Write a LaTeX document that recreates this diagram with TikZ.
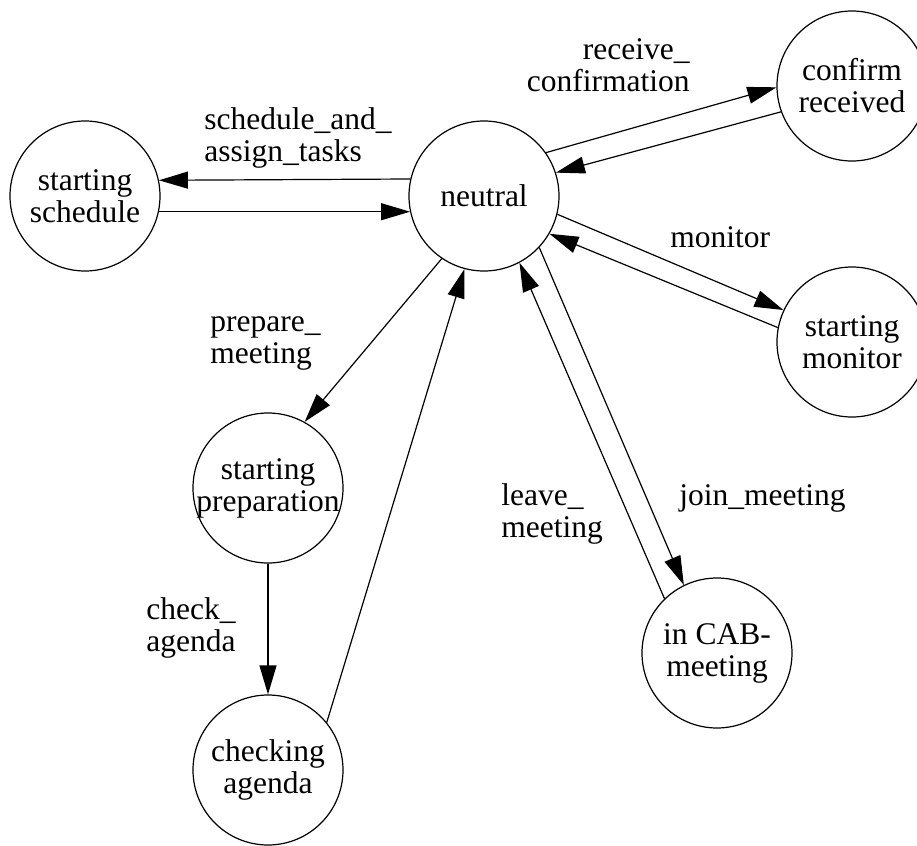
\documentclass[tikz,border=0pt]{standalone}
\usepackage{fontspec}
\setmainfont{Liberation Serif}
\usetikzlibrary{arrows.meta}
\begin{document}
\begin{tikzpicture}[x=0.5pt,y=-0.5pt,
        font=\fontsize{15.75}{16}\selectfont,
        state/.style={circle,draw,line width=0.6pt,minimum size=75pt,inner sep=-20pt,align=center},
        trans/.style={-{Triangle[length=14.5pt,width=8.5pt]},line width=0.6pt},
        lbl/.style={inner sep=0pt}]
        \useasboundingbox (0,0) rectangle (917,846);
        \node [state] (sched) at (85,196) {starting\\schedule};
        \node [state] (neutral) at (484,196) {neutral};
        \node [state] (confirm) at (852,86) {confirm\\received};
        \node [state] (monitor) at (852,342) {starting\\monitor};
        \node [state] (prep) at (268,488) {starting\\preparation};
        \node [state] (agenda) at (268,770) {checking\\agenda};
        \node [state] (cab) at (717,653) {in CAB-\\meeting};
        \draw [trans] (neutral.167.7) -- (sched.12.3);
        \draw [trans] (sched.-12.3) -- (neutral.192.3);
        \draw [trans] (neutral.35.5) -- (confirm.181.5);
        \draw [trans] (confirm.200) -- (neutral.18.7);
        \draw [trans] (neutral.-14) -- (monitor.155);
        \draw [trans] (monitor.169) -- (neutral.-30);
        \draw [trans] (neutral.236) -- (prep.61);
        \draw [trans] (prep.south) -- (agenda.north);
        \draw [trans] (agenda.39) -- (neutral.255);
        \draw [trans] (neutral.-43) -- (cab.116);
        \draw [trans] (cab.134.5) -- (neutral.-62);
        \node [lbl,anchor=base west,align=left] (lsched) at (204,161) {schedule\_and\_\\assign\_tasks};
        \node [lbl,anchor=base east,align=right] (lconfirm) at (690,91) {receive\_\\confirmation};
        \node [lbl,anchor=base west] (lmonitor) at (670,247) {monitor};
        \node [lbl,anchor=base west,align=left] (lprep) at (210,363) {prepare\_\\meeting};
        \node [lbl,anchor=base east,align=right] (lcheck) at (236,651) {check\_\\agenda};
        \node [lbl,anchor=base west,align=left] (lleave) at (501,537) {leave\_\\meeting};
        \node [lbl,anchor=base west] (ljoin) at (679,505) {join\_meeting};
\end{tikzpicture}
\end{document}
